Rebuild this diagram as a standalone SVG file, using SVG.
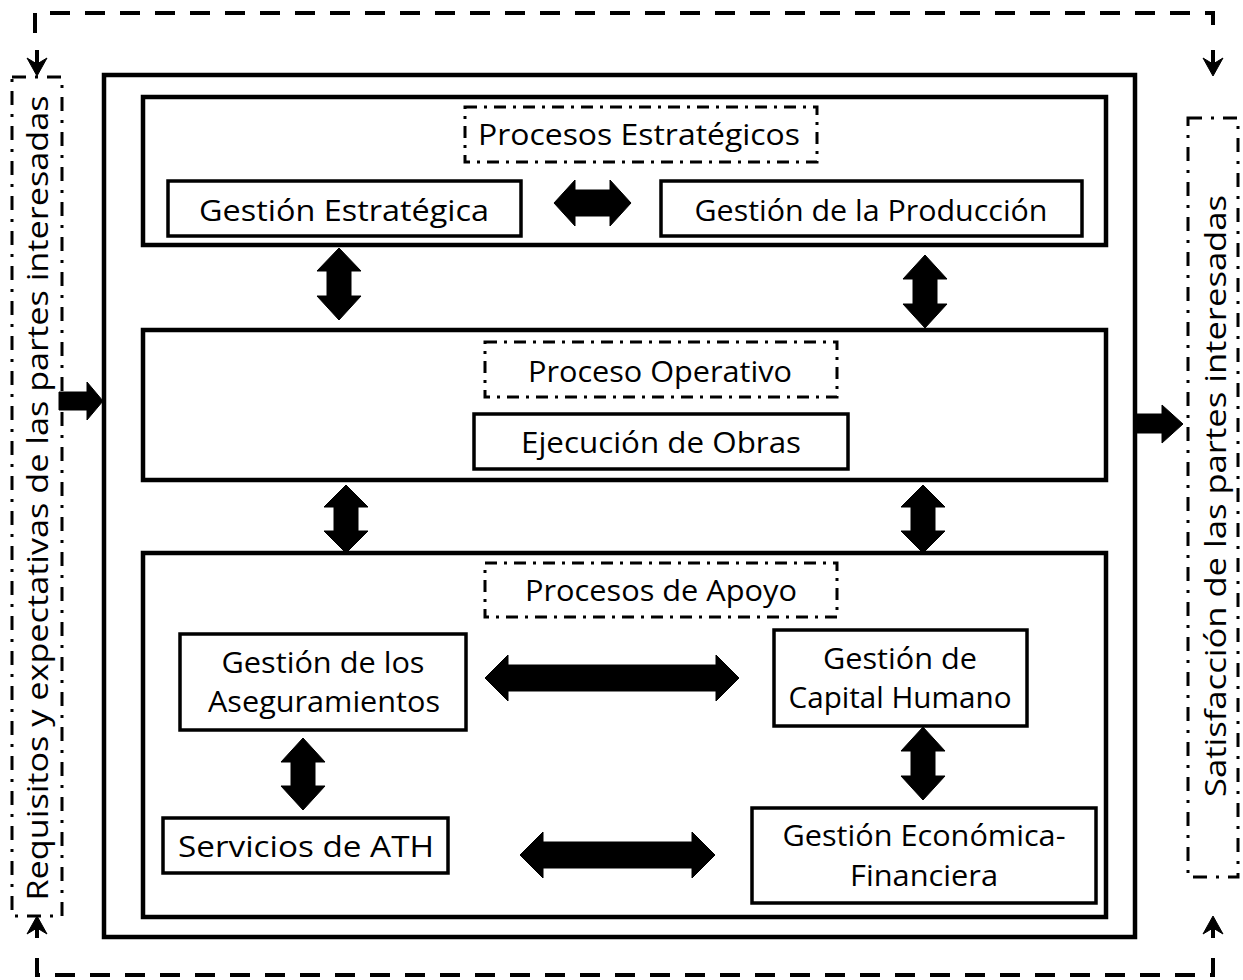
<svg xmlns="http://www.w3.org/2000/svg" width="1243" height="980" viewBox="0 0 1243 980">
<style>
text{font-family:"Open Sans","DejaVu Sans",sans-serif;font-size:30px;fill:#000}
.box{fill:#fff;stroke:#000;stroke-width:3.5}
.frame{fill:none;stroke:#000;stroke-width:4.5}
.dd{fill:none;stroke:#000;stroke-width:3;stroke-dasharray:12 7 3 7}
.dd2{fill:none;stroke:#000;stroke-width:3;stroke-dasharray:14 9 3 9}
.loop{fill:none;stroke:#000;stroke-width:4;stroke-dasharray:20 15}
.arr{fill:#000;stroke:#000;stroke-width:1;stroke-linejoin:round}
.sh{stroke:#000;stroke-width:4;fill:none}
</style>
<rect width="1243" height="980" fill="#fff"/>

<g id="loop">
<path class="loop" d="M35,33 L35,13 L1213,13 L1213,33"/>
<path class="loop" d="M37,958 L37,975 L1213,975 L1213,958"/>
<line class="sh" x1="37" y1="50" x2="37" y2="68"/>
<path class="arr" d="M37,76 L27,58 L37,64 L47,58 Z"/>
<line class="sh" x1="1213" y1="50" x2="1213" y2="68"/>
<path class="arr" d="M1213,76 L1203,58 L1213,64 L1223,58 Z"/>
<line class="sh" x1="37" y1="938" x2="37" y2="924"/>
<path class="arr" d="M37,916 L27,934 L37,928 L47,934 Z"/>
<line class="sh" x1="1213" y1="938" x2="1213" y2="924"/>
<path class="arr" d="M1213,916 L1203,934 L1213,928 L1223,934 Z"/>
</g>

<g id="requisitos">
<rect class="dd2" x="12" y="77" width="50" height="839"/>
<text transform="translate(48,498) rotate(-90)" text-anchor="middle" textLength="805" lengthAdjust="spacingAndGlyphs">Requisitos y expectativas de las partes interesadas</text>
</g>

<g id="satisfaccion">
<rect class="dd2" x="1188" y="118" width="50" height="759"/>
<text transform="translate(1226,496) rotate(-90)" text-anchor="middle" textLength="602" lengthAdjust="spacingAndGlyphs">Satisfacción de las partes interesadas</text>
</g>

<g id="sistema">
<rect class="frame" x="104" y="75" width="1031" height="862"/>
</g>

<g id="estrategicos">
<rect class="frame" x="143" y="97" width="963" height="148" stroke-width="4"/>
<rect class="dd" x="465" y="107" width="352" height="55"/>
<text x="639" y="145" text-anchor="middle" textLength="322" lengthAdjust="spacingAndGlyphs">Procesos Estratégicos</text>
</g>
<g id="gestion-estrategica">
<rect class="box" x="168" y="181" width="353" height="55"/>
<text x="344" y="221" text-anchor="middle" textLength="290" lengthAdjust="spacingAndGlyphs">Gestión Estratégica</text>
</g>
<g id="gestion-produccion">
<rect class="box" x="661" y="181" width="421" height="55"/>
<text x="871" y="221" text-anchor="middle" textLength="353" lengthAdjust="spacingAndGlyphs">Gestión de la Producción</text>
</g>

<g id="operativo">
<rect class="frame" x="143" y="330" width="963" height="150" stroke-width="4"/>
<rect class="dd" x="485" y="342" width="352" height="55"/>
<text x="660" y="382" text-anchor="middle" textLength="264" lengthAdjust="spacingAndGlyphs">Proceso Operativo</text>
</g>
<g id="ejecucion">
<rect class="box" x="474" y="414" width="374" height="55"/>
<text x="661" y="453" text-anchor="middle" textLength="280" lengthAdjust="spacingAndGlyphs">Ejecución de Obras</text>
</g>

<g id="apoyo">
<rect class="frame" x="143" y="553" width="963" height="364" stroke-width="4"/>
<rect class="dd" x="485" y="563" width="352" height="54"/>
<text x="661" y="601" text-anchor="middle" textLength="272" lengthAdjust="spacingAndGlyphs">Procesos de Apoyo</text>
</g>
<g id="aseguramientos">
<rect class="box" x="180" y="634" width="286" height="96"/>
<text x="323" y="673" text-anchor="middle" textLength="203" lengthAdjust="spacingAndGlyphs">Gestión de los</text>
<text x="324" y="712" text-anchor="middle" textLength="232" lengthAdjust="spacingAndGlyphs">Aseguramientos</text>
</g>
<g id="capital-humano">
<rect class="box" x="774" y="630" width="253" height="96"/>
<text x="900" y="669" text-anchor="middle" textLength="154" lengthAdjust="spacingAndGlyphs">Gestión de</text>
<text x="900" y="708" text-anchor="middle" textLength="223" lengthAdjust="spacingAndGlyphs">Capital Humano</text>
</g>
<g id="servicios-ath">
<rect class="box" x="163" y="818" width="285" height="55"/>
<text x="306" y="857" text-anchor="middle" textLength="256" lengthAdjust="spacingAndGlyphs">Servicios de ATH</text>
</g>
<g id="economica">
<rect class="box" x="752" y="808" width="344" height="95"/>
<text x="924" y="846" text-anchor="middle" textLength="283" lengthAdjust="spacingAndGlyphs">Gestión Económica-</text>
<text x="924" y="886" text-anchor="middle" textLength="148" lengthAdjust="spacingAndGlyphs">Financiera</text>
</g>

<g id="connectors">
<path class="arr" d="M59,392 L87,392 L87,382 L103,401 L87,420 L87,410 L59,410 Z"/>
<path class="arr" d="M1137,414 L1162,414 L1162,405 L1183,424 L1162,443 L1162,433 L1137,433 Z"/>
<path class="arr" d="M554,203 L575,180 L575,190 L610,190 L610,180 L631,203 L610,226 L610,216 L575,216 L575,226 Z"/>
<path class="arr" d="M339,248 L361,271 L351,271 L351,296 L361,296 L339,320 L317,296 L327,296 L327,271 L317,271 Z"/>
<path class="arr" d="M925,255 L947,279 L937,279 L937,304 L947,304 L925,328 L903,304 L913,304 L913,279 L903,279 Z"/>
<path class="arr" d="M346,485 L368,507 L358,507 L358,531 L368,531 L346,553 L324,531 L334,531 L334,507 L324,507 Z"/>
<path class="arr" d="M923,485 L945,507 L935,507 L935,531 L945,531 L923,553 L901,531 L911,531 L911,507 L901,507 Z"/>
<path class="arr" d="M485,678 L508,655 L508,665 L716,665 L716,655 L739,678 L716,701 L716,691 L508,691 L508,701 Z"/>
<path class="arr" d="M303,738 L325,762 L315,762 L315,786 L325,786 L303,810 L281,786 L291,786 L291,762 L281,762 Z"/>
<path class="arr" d="M923,727 L945,751 L935,751 L935,776 L945,776 L923,800 L901,776 L911,776 L911,751 L901,751 Z"/>
<path class="arr" d="M520,855 L543,832 L543,842 L692,842 L692,832 L715,855 L692,878 L692,868 L543,868 L543,878 Z"/>
</g>
</svg>
